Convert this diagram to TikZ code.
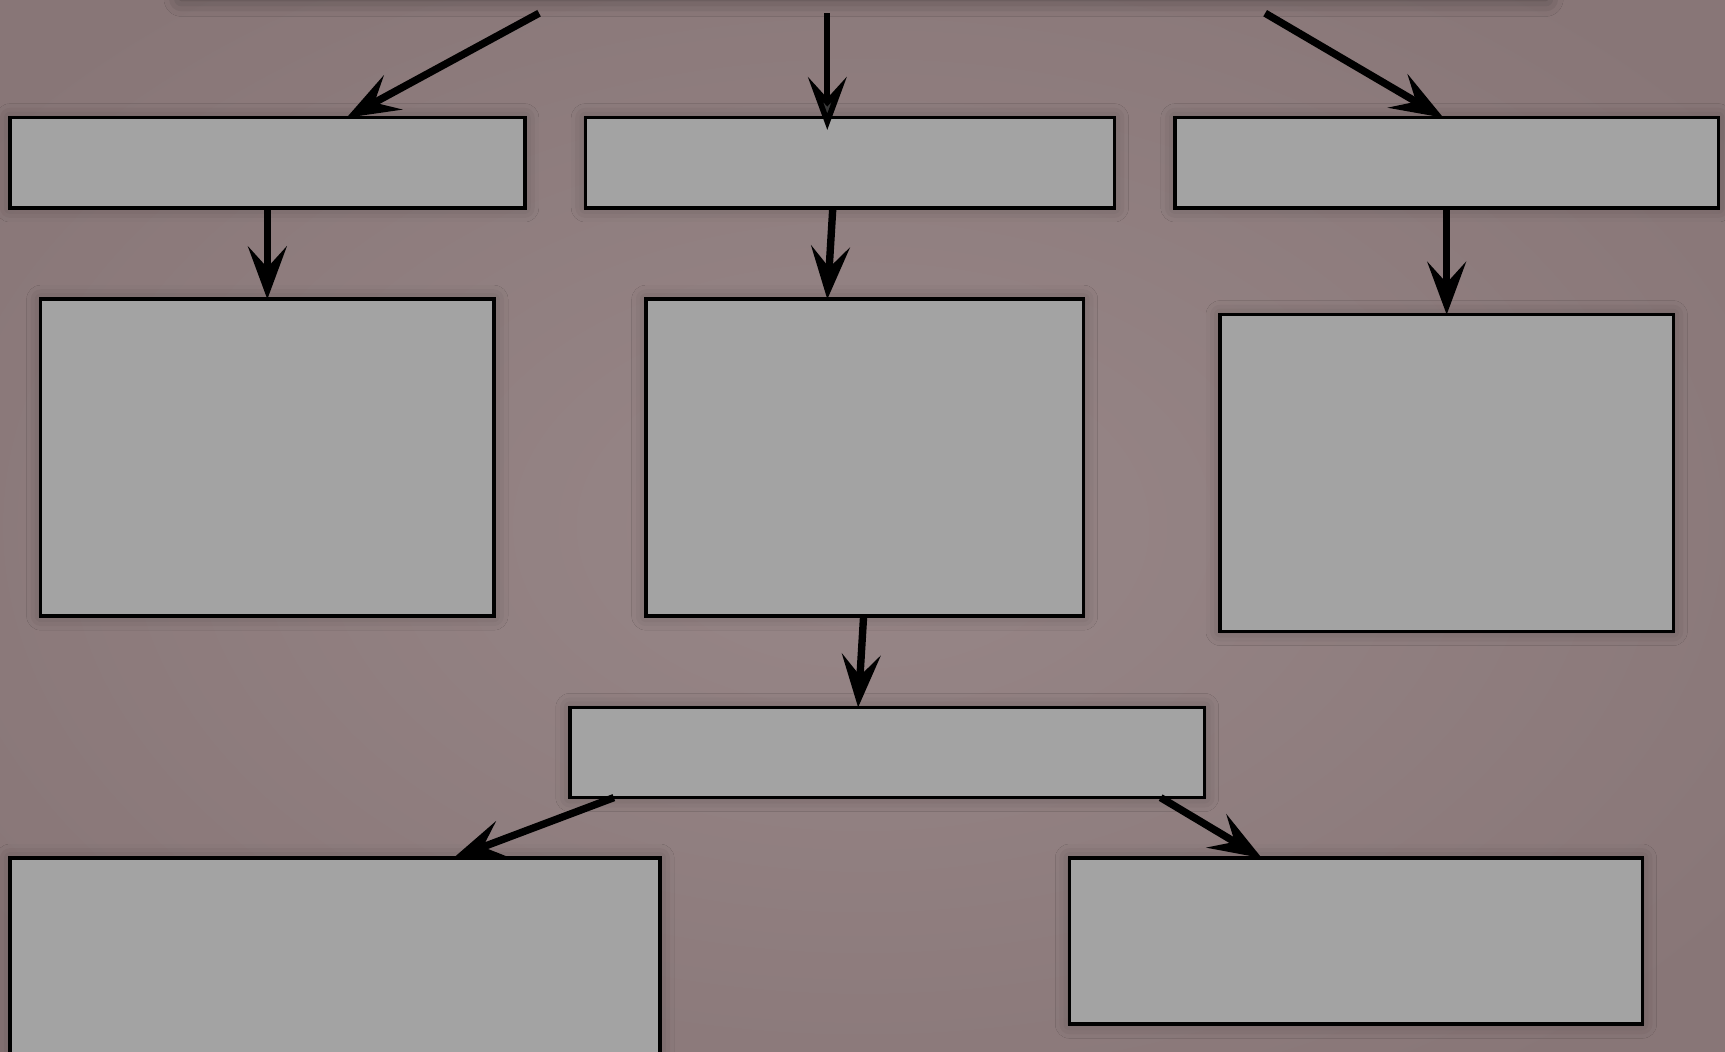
\documentclass[tikz,border=0pt]{standalone}
\usetikzlibrary{arrows.meta,calc,fit,shadows.blur}
\definecolor{bgmid}{RGB}{152,135,136}
\definecolor{bgout}{RGB}{136,118,119}
\definecolor{boxfill}{RGB}{163,163,163}
\tikzset{
  box/.style={draw=black, line width=1pt, fill=boxfill, inner sep=0pt, outer sep=0pt,
    blur shadow={shadow xshift=0pt, shadow yshift=0pt, shadow blur radius=4pt, shadow opacity=28}},
  arr/.style={line width=2.1pt, -{Stealth[length=15pt, width=11pt, inset=6pt]}},
}
\begin{document}
\begin{tikzpicture}[x=0.011cm, y=-0.011cm]
\useasboundingbox (0,0) rectangle (1568,956);
\shade[inner color=bgmid, outer color=bgout] (-200,-150) rectangle (1768,1106);
\path[fill=bgmid, blur shadow={shadow xshift=0pt, shadow yshift=0pt, shadow blur radius=5pt, shadow opacity=45}] (165,-60) rectangle (1405,-1);
% boxes
\node[box, fit={(9,107) (477,189)}] (B1) {};
\node[box, fit={(532,107) (1013,189)}] (B2) {};
\node[box, fit={(1068,107) (1562,189)}] (B3) {};
\node[box, fit={(37,272) (449,560)}] (C1) {};
\node[box, fit={(587,272) (985,560)}] (C2) {};
\node[box, fit={(1109,286) (1521,574)}] (C3) {};
\node[box, fit={(518,643) (1095,725)}] (D) {};
\node[box, fit={(9,780) (600,990)}] (E1) {};
\node[box, fit={(972,780) (1493,931)}] (E2) {};
% free tails
\coordinate (t1) at (490,12);
\coordinate (t2) at (752,12);
\coordinate (t3) at (1150,12);
% arrows
\draw[arr] (t1) -- ($(B1.north west)+(306,0)$);
\draw[arr, line width=1.6pt] (t2) -- ($(B2.north west)+(220,11)$);
\draw[arr] (t3) -- ($(B3.north west)+(244,0)$);
\draw[arr] ($(B1.south west)+(234,0)$) -- ($(C1.north west)+(206,0)$);
\draw[arr] ($(B2.south west)+(225,0)$) -- ($(C2.north west)+(165,0)$);
\draw[arr] ($(B3.south west)+(247,0)$) -- ($(C3.north west)+(206,0)$);
\draw[arr] ($(C2.south west)+(198,0)$) -- ($(D.north west)+(262,0)$);
\draw[arr] ($(D.south west)+(40,0)$) -- ($(E1.north west)+(403,0)$);
\draw[arr] ($(D.south west)+(537,0)$) -- ($(E2.north west)+(175,0)$);
\end{tikzpicture}
\end{document}
